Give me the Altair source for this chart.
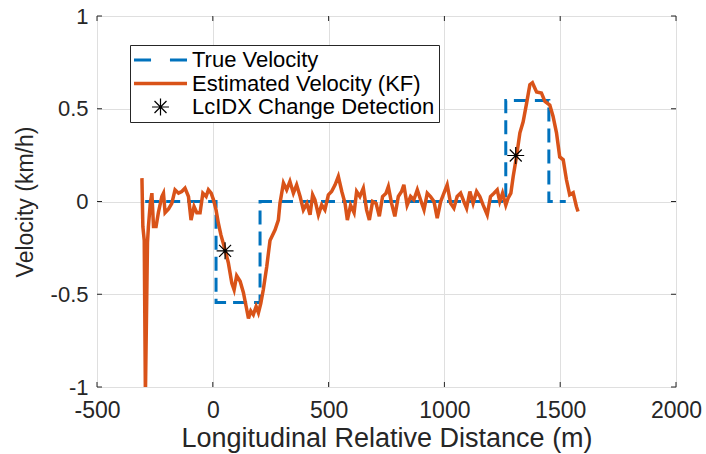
import altair as alt
import pandas as pd

# ---- data ----
true_x = [-292, 14, 14, 204, 204, 1265, 1265, 1451, 1451, 1524]
true_y = [0, 0, -0.545, -0.545, 0, 0, 0.545, 0.545, 0, 0]

est_x = [-306, -302, -296, -291, -282, -278, -270, -263, -256, -245, -235, -220, -213, -206,
         -191, -177, -163, -148, -134, -120, -105, -94, -81, -69, -55, -43, -29, -19, -7, 3,
         14, 24, 35, 53, 67, 82, 92, 103, 118, 132, 144, 154, 164, 175, 187, 197, 207, 218,
         233, 247, 269, 283, 290, 305, 319, 333, 348, 362, 377, 391, 406, 420, 431, 441, 456,
         470, 484, 499, 513, 528, 542, 557, 571, 581, 595, 610, 621, 635, 650, 664, 676, 690,
         705, 719, 733, 748, 758, 772, 786, 801, 815, 825, 839, 854, 868, 883, 897, 912, 926,
         940, 955, 969, 984, 998, 1012, 1027, 1041, 1055, 1070, 1084, 1096, 1110, 1124, 1139,
         1153, 1167, 1185, 1199, 1214, 1228, 1239, 1251, 1265, 1275, 1287, 1297, 1311, 1326,
         1340, 1355, 1369, 1380, 1398, 1419, 1434, 1455, 1469, 1484, 1498, 1513, 1527, 1541,
         1556, 1570, 1577]
est_y = [0.126, -0.135, -0.21, -1.05, -0.22, -0.135, -0.01, 0.045, -0.135, -0.135, -0.06, 0.027,
         0.045, -0.06, -0.04, -0.01, 0.063, 0.045, 0.054, 0.072, 0.027, -0.1, -0.027, -0.06,
         -0.06, 0.045, 0.027, 0.063, 0.045, 0.009, -0.045, -0.117, -0.18, -0.26, -0.33, -0.44,
         -0.476, -0.40, -0.43, -0.49, -0.566, -0.63, -0.59, -0.61, -0.566, -0.60, -0.55, -0.476,
         -0.35, -0.21, -0.153, -0.10, -0.01, 0.1, 0.063, 0.108, 0.045, 0.09, 0.027, -0.045,
         -0.01, -0.072, 0.036, 0.009, -0.072, -0.018, -0.045, 0.036, 0.054, 0.09, 0.135, 0.054,
         -0.01, -0.1, -0.02, -0.06, 0.054, 0.027, 0.072, -0.045, -0.1, 0.0, -0.01, -0.08, 0.027,
         0.045, 0.08, -0.01, -0.08, 0.027, 0.054, 0.09, -0.02, 0.027, 0.009, 0.063, 0.009,
         -0.045, 0.045, 0.027, 0.0, -0.09, 0.0, 0.045, 0.09, -0.01, -0.036, 0.027, 0.045, 0.0,
         -0.036, 0.054, -0.01, 0.054, 0.027, -0.018, -0.072, 0.027, 0.045, 0.063, 0.0, 0.045,
         -0.02, 0.018, 0.045, 0.135, 0.24, 0.37, 0.43, 0.53, 0.63, 0.64, 0.59, 0.585, 0.54,
         0.52, 0.46, 0.37, 0.24, 0.225, 0.117, 0.036, 0.047, -0.027, -0.054]

det_x = [53, 1308]
det_y = [-0.266, 0.248]

x_ticks = [-500, 0, 500, 1000, 1500, 2000]
y_ticks = [-1, -0.5, 0, 0.5, 1]

series_names = ["True Velocity", "Estimated Velocity (KF)", "LcIDX Change Detection"]
series_colors = ["#0072BD", "#D95319", "#000000"]

# legend sample shapes (unit square paths; 1 unit = 11 px at size 484)
dash_path = "M-2.41,-0.145H-0.86V0.145H-2.41Z M0.86,-0.145H2.41V0.145H0.86Z"
solid_path = "M-2.41,-0.155H2.41V0.155H-2.41Z"
star_path = ("M-0.77,-0.055H0.77V0.055H-0.77Z "
             "M-0.055,-0.77H0.055V0.77H-0.055Z "
             "M-0.505,-0.583L0.583,0.505L0.505,0.583L-0.583,-0.505Z "
             "M-0.583,0.505L0.505,-0.583L0.583,-0.505L-0.505,0.583Z")
series_shapes = [dash_path, solid_path, star_path]
SYM = 484

W, H = 579, 371
AX = "#262626"
FONT = "Liberation Sans"

true_df = pd.DataFrame({"x": true_x, "y": true_y, "i": list(range(len(true_x)))})
est_df = pd.DataFrame({"x": est_x, "y": est_y, "i": list(range(len(est_x)))})
det_df = pd.DataFrame({"x": det_x, "y": det_y, "s": [series_names[2]] * len(det_x)})
xt_df = pd.DataFrame({"v": x_ticks})
yt_df = pd.DataFrame({"v": y_ticks})

xscale = alt.Scale(domain=[-500, 2000], nice=False, zero=False)
yscale = alt.Scale(domain=[-1, 1], nice=False, zero=False)

xaxis = alt.Axis(values=x_ticks, title="Longitudinal Relative Distance (m)", grid=True,
                 ticks=False, tickSize=0, domain=False, labelPadding=12,
                 labelFont=FONT, labelFontSize=23, labelColor=AX,
                 labelExpr="'' + datum.value",
                 titleFont=FONT, titleFontSize=27, titleFontWeight="normal", titleColor=AX,
                 titleBaseline="alphabetic", titleY=59,
                 gridColor="#dfdfdf", gridWidth=1, labelFlush=False)
yaxis = alt.Axis(values=y_ticks, title="Velocity (km/h)", grid=True,
                 ticks=False, tickSize=0, domain=False, labelPadding=9,
                 labelFont=FONT, labelFontSize=22, labelColor=AX,
                 labelExpr="'' + datum.value",
                 titleFont=FONT, titleFontSize=23, titleFontWeight="normal", titleColor=AX,
                 titleBaseline="alphabetic", titleX=-65, titleY=H / 2, titleAngle=270,
                 titleAlign="center",
                 gridColor="#dfdfdf", gridWidth=1, labelFlush=False)

true_line = alt.Chart(true_df).mark_line(
    color=series_colors[0], strokeWidth=3, strokeDash=[14, 7], clip=True
).encode(
    x=alt.X("x:Q", scale=xscale, axis=xaxis),
    y=alt.Y("y:Q", scale=yscale, axis=yaxis),
    order="i:Q",
)

est_line = alt.Chart(est_df).mark_line(
    color=series_colors[1], strokeWidth=3.5, clip=True
).encode(
    x=alt.X("x:Q", scale=xscale),
    y=alt.Y("y:Q", scale=yscale),
    order="i:Q",
)

det_pts = alt.Chart(det_df).mark_point(
    filled=True, opacity=1, size=SYM, strokeWidth=0
).encode(
    x=alt.X("x:Q", scale=xscale),
    y=alt.Y("y:Q", scale=yscale),
    color=alt.Color("s:N", scale=alt.Scale(domain=series_names, range=series_colors),
                    legend=alt.Legend(orient="none", legendX=33, legendY=29, title=None,
                                      symbolSize=SYM, symbolStrokeWidth=0,
                                      symbolOffset=15.5,
                                      labelFont=FONT, labelFontSize=22, labelColor="#000000",
                                      labelOffset=20.5, padding=4, rowPadding=1.5,
                                      strokeColor=AX, fillColor="white",
                                      labelLimit=400)),
    shape=alt.Shape("s:N", scale=alt.Scale(domain=series_names, range=series_shapes)),
)

def hticks(y0, y1):
    return alt.Chart(xt_df).mark_rule(color=AX, strokeWidth=1).encode(
        x=alt.X("v:Q", scale=xscale), y=alt.value(y0), y2=alt.value(y1))

def vticks(x0, x1):
    return alt.Chart(yt_df).mark_rule(color=AX, strokeWidth=1).encode(
        y=alt.Y("v:Q", scale=yscale), x=alt.value(x0), x2=alt.value(x1))

chart = alt.layer(
    true_line, est_line, det_pts,
    hticks(H, H - 5), hticks(0, 5), vticks(0, 5), vticks(W, W - 5),
).properties(
    width=W, height=H,
    autosize=alt.AutoSizeParams(type="none"),
    padding={"left": 97, "top": 16, "right": 706 - 97 - W, "bottom": 454 - 16 - H},
).configure_view(
    stroke=AX, strokeWidth=1
).configure(background="white")

chart.save("out.html", embed_options={"renderer": "svg", "actions": False})
